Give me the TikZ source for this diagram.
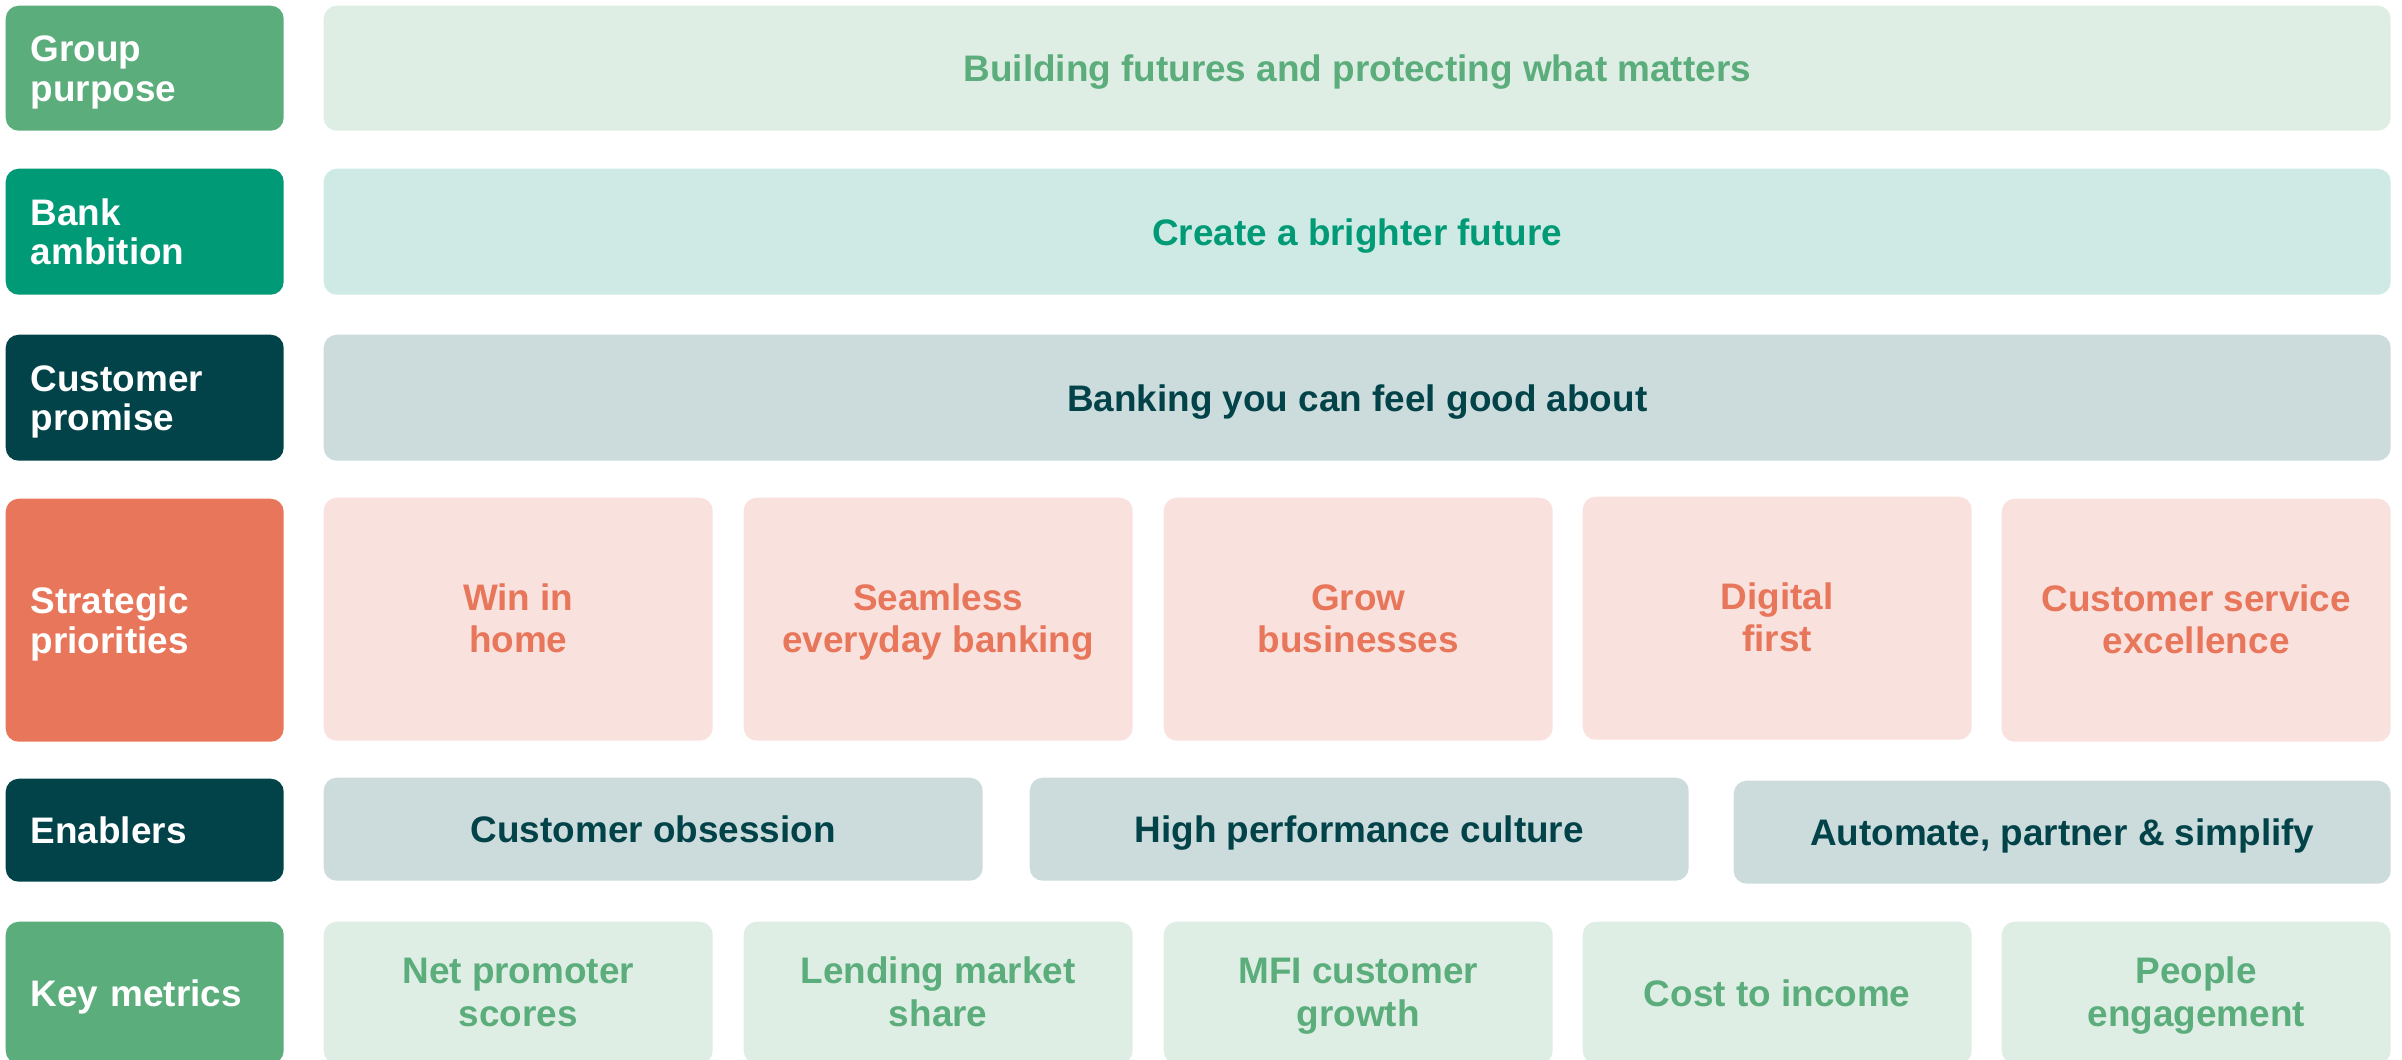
\documentclass[tikz,border=0pt]{standalone}
\usepackage{fontspec}
\setmainfont{Liberation Sans}
\definecolor{gpDark}{HTML}{5BAD7B}
\definecolor{gpLight}{HTML}{DEEEE4}
\definecolor{baDark}{HTML}{009A77}
\definecolor{baLight}{HTML}{CFEAE4}
\definecolor{cpDark}{HTML}{02434A}
\definecolor{cpLight}{HTML}{CCDBDB}
\definecolor{spDark}{HTML}{E8765B}
\definecolor{spLight}{HTML}{F9E1DD}
\begin{document}
\begin{tikzpicture}[y=-1cm,
  tile/.style={rectangle, rounded corners=1.3mm, inner sep=0pt, anchor=north west,
    align=center, font=\bfseries\fontsize{10.5}{12.2}\selectfont,
    execute at begin node=\rule{0pt}{9.8pt}, execute at end node=\vphantom{g}},
  twoline/.style={execute at begin node=\rule{0pt}{21.4pt}},
  rowlabel/.style={tile, text=white, align=left, text width=2.28cm, inner xsep=0.25cm,
    minimum width=2.78cm, font=\bfseries\fontsize{10.5}{11.2}\selectfont},
  wide/.style={tile, minimum width=20.67cm},
  prio/.style={tile, twoline, minimum width=3.89cm, minimum height=2.43cm, fill=spLight, text=spDark},
  enab/.style={tile, minimum width=6.59cm, minimum height=1.03cm, fill=cpLight, text=cpDark},
  metric/.style={tile, minimum width=3.89cm, minimum height=1.42cm, fill=gpLight, text=gpDark}]
\useasboundingbox (0,0) rectangle (24.02,10.59);
\clip (0,0) rectangle (24.02,10.59);

% Row 1: group purpose
\node[rowlabel, fill=gpDark, minimum height=1.25cm] (lGroup) at (0.05,0.05) {Group\\purpose};
\node[wide, fill=gpLight, text=gpDark, minimum height=1.25cm] (purpose) at (3.23,0.05)
  {Building futures and protecting what matters};

% Row 2: bank ambition
\node[rowlabel, fill=baDark, minimum height=1.26cm] (lBank) at (0.05,1.68) {Bank\\ambition};
\node[wide, fill=baLight, text=baDark, minimum height=1.26cm] (ambition) at (3.23,1.68)
  {Create a brighter future};

% Row 3: customer promise
\node[rowlabel, fill=cpDark, minimum height=1.26cm] (lPromise) at (0.05,3.34) {Customer\\promise};
\node[wide, fill=cpLight, text=cpDark, minimum height=1.26cm] (promise) at (3.23,3.34)
  {Banking you can feel good about};

% Row 4: strategic priorities
\node[rowlabel, fill=spDark, minimum height=2.43cm] (lPrio) at (0.05,4.98) {Strategic\\priorities};
\node[prio] (p1) at (3.23,4.97) {Win in\\home};
\node[prio] (p2) at (7.43,4.97) {Seamless\\everyday banking};
\node[prio] (p3) at (11.63,4.97) {Grow\\businesses};
\node[prio] (p4) at (15.82,4.96) {Digital\\first};
\node[prio] (p5) at (20.01,4.98) {Customer service\\excellence};

% Row 5: enablers
\node[rowlabel, fill=cpDark, minimum height=1.03cm] (lEnab) at (0.05,7.78) {Enablers};
\node[enab] (e1) at (3.23,7.77) {Customer obsession};
\node[enab] (e2) at (10.29,7.77) {High performance culture};
\node[enab, minimum width=6.57cm] (e3) at (17.33,7.80) {Automate, partner \& simplify};

% Row 6: key metrics
\node[rowlabel, fill=gpDark, minimum height=1.42cm] (lMetric) at (0.05,9.21) {Key metrics};
\node[metric, twoline] (m1) at (3.23,9.21) {Net promoter\\scores};
\node[metric, twoline] (m2) at (7.43,9.21) {Lending market\\share};
\node[metric, twoline] (m3) at (11.63,9.21) {MFI customer\\growth};
\node[metric] (m4) at (15.82,9.21) {Cost to income};
\node[metric, twoline] (m5) at (20.01,9.21) {People\\engagement};
\end{tikzpicture}
\end{document}
